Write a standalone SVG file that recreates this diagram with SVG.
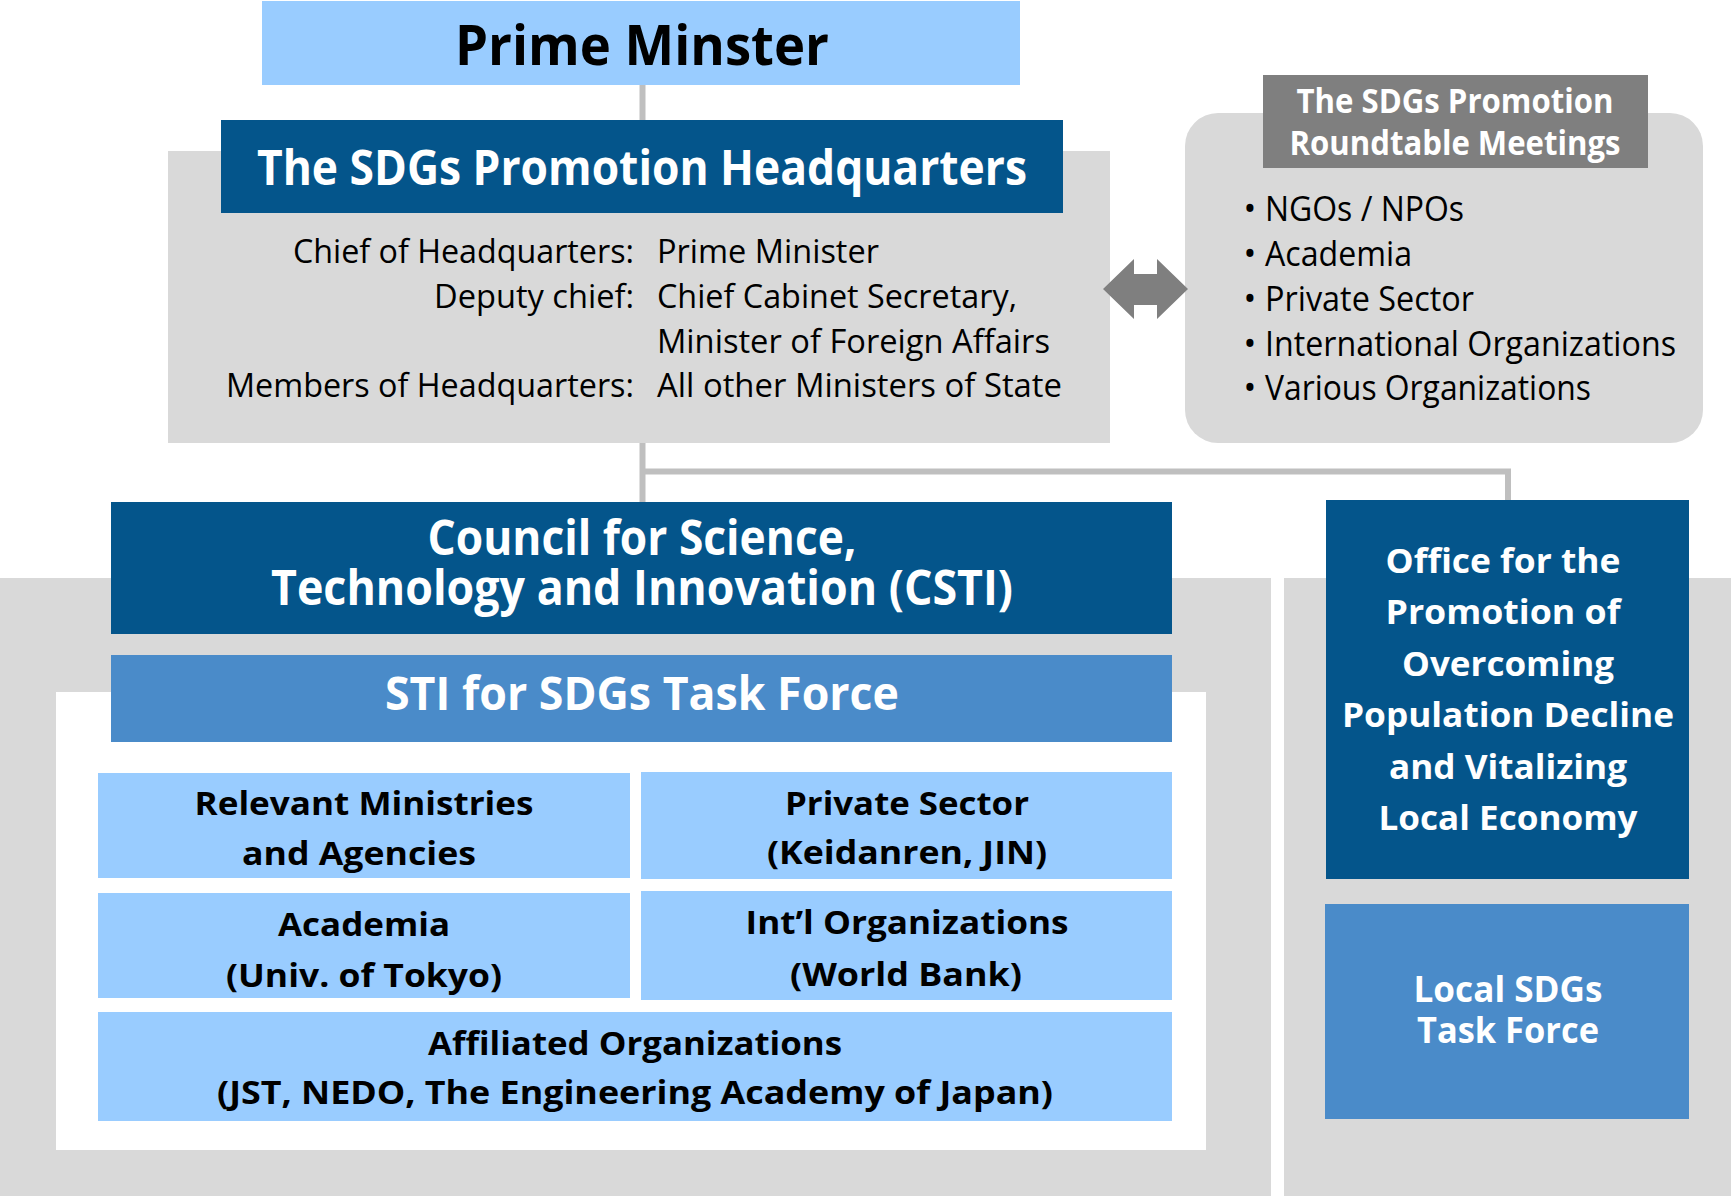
<svg xmlns="http://www.w3.org/2000/svg" width="1731" height="1196" viewBox="0 0 1731 1196">
<style>
text{font-family:"Open Sans","Liberation Sans",sans-serif}
.b{font-weight:700}
.w{fill:#ffffff}
.k{fill:#000000}
.m{text-anchor:middle}
.e{text-anchor:end}
.dark{fill:#04558b}
.mid{fill:#4a8bc9}
.light{fill:#99ccff}
.grey{fill:#d9d9d9}
.conn{stroke:#bfbfbf;stroke-width:6;fill:none}
</style>
<rect width="1731" height="1196" fill="#ffffff"/>
<g id="panels">
<rect class="grey" x="0" y="578" width="1271" height="618"/>
<rect class="grey" x="1284" y="578" width="447" height="618"/>
<rect fill="#ffffff" x="56" y="692" width="1150" height="458"/>
</g>
<g id="prime-minister">
<rect class="light" x="262" y="1" width="758" height="84"/>
<text class="b k m" x="642" y="65" font-size="56" textLength="374" lengthAdjust="spacingAndGlyphs">Prime Minster</text>
</g>
<g id="headquarters">
<rect class="grey" x="168" y="151" width="942" height="292"/>
<rect class="dark" x="221" y="120" width="842" height="93"/>
<text class="b w m" x="642" y="185" font-size="48" textLength="770" lengthAdjust="spacingAndGlyphs">The SDGs Promotion Headquarters</text>
<g font-size="33" class="k">
<text class="e" x="634" y="263" textLength="341" lengthAdjust="spacingAndGlyphs">Chief of Headquarters:</text>
<text class="e" x="634" y="308" textLength="200" lengthAdjust="spacingAndGlyphs">Deputy chief:</text>
<text class="e" x="634" y="397" textLength="408" lengthAdjust="spacingAndGlyphs">Members of Headquarters:</text>
<text x="657" y="263" textLength="222" lengthAdjust="spacingAndGlyphs">Prime Minister</text>
<text x="657" y="308" textLength="360" lengthAdjust="spacingAndGlyphs">Chief Cabinet Secretary,</text>
<text x="657" y="353" textLength="393" lengthAdjust="spacingAndGlyphs">Minister of Foreign Affairs</text>
<text x="657" y="397" textLength="405" lengthAdjust="spacingAndGlyphs">All other Ministers of State</text>
</g>
</g>
<g id="roundtable">
<rect class="grey" x="1185" y="113" width="518" height="330" rx="33" ry="33"/>
<rect fill="#7f7f7f" x="1263" y="75" width="385" height="93"/>
<text class="b w m" x="1455" y="113" font-size="34" textLength="317" lengthAdjust="spacingAndGlyphs">The SDGs Promotion</text>
<text class="b w m" x="1455" y="155" font-size="34" textLength="331" lengthAdjust="spacingAndGlyphs">Roundtable Meetings</text>
<g font-size="34" class="k">
<text class="m" x="1250" y="221">•</text>
<text class="m" x="1250" y="266">•</text>
<text class="m" x="1250" y="311">•</text>
<text class="m" x="1250" y="356">•</text>
<text class="m" x="1250" y="400">•</text>
<text x="1265" y="221" textLength="199" lengthAdjust="spacingAndGlyphs">NGOs / NPOs</text>
<text x="1265" y="266" textLength="147" lengthAdjust="spacingAndGlyphs">Academia</text>
<text x="1265" y="311" textLength="209" lengthAdjust="spacingAndGlyphs">Private Sector</text>
<text x="1265" y="356" textLength="411" lengthAdjust="spacingAndGlyphs">International Organizations</text>
<text x="1265" y="400" textLength="326" lengthAdjust="spacingAndGlyphs">Various Organizations</text>
</g>
</g>
<g id="csti">
<rect class="dark" x="111" y="502" width="1061" height="132"/>
<text class="b w m" x="642" y="555" font-size="48" textLength="429" lengthAdjust="spacingAndGlyphs">Council for Science,</text>
<text class="b w m" x="642" y="605" font-size="48" textLength="742" lengthAdjust="spacingAndGlyphs">Technology and Innovation (CSTI)</text>
</g>
<g id="sti-task-force">
<rect class="mid" x="111" y="655" width="1061" height="87"/>
<text class="b w m" x="642" y="710" font-size="46" textLength="514" lengthAdjust="spacingAndGlyphs">STI for SDGs Task Force</text>
</g>
<g id="relevant-ministries">
<rect class="light" x="98" y="773" width="532" height="105"/>
<text class="b k m" x="364" y="815" font-size="33" textLength="339" lengthAdjust="spacingAndGlyphs">Relevant Ministries</text>
<text class="b k m" x="359" y="865" font-size="33" textLength="234" lengthAdjust="spacingAndGlyphs">and Agencies</text>
</g>
<g id="private-sector">
<rect class="light" x="641" y="772" width="531" height="107"/>
<text class="b k m" x="907" y="815" font-size="33" textLength="244" lengthAdjust="spacingAndGlyphs">Private Sector</text>
<text class="b k m" x="907" y="864" font-size="33" textLength="280" lengthAdjust="spacingAndGlyphs">(Keidanren, JIN)</text>
</g>
<g id="academia">
<rect class="light" x="98" y="893" width="532" height="105"/>
<text class="b k m" x="364" y="936" font-size="33" textLength="172" lengthAdjust="spacingAndGlyphs">Academia</text>
<text class="b k m" x="364" y="987" font-size="33" textLength="276" lengthAdjust="spacingAndGlyphs">(Univ. of Tokyo)</text>
</g>
<g id="intl-organizations">
<rect class="light" x="641" y="891" width="531" height="109"/>
<text class="b k m" x="907" y="934" font-size="33" textLength="323" lengthAdjust="spacingAndGlyphs">Int’l Organizations</text>
<text class="b k m" x="906" y="986" font-size="33" textLength="232" lengthAdjust="spacingAndGlyphs">(World Bank)</text>
</g>
<g id="affiliated-organizations">
<rect class="light" x="98" y="1012" width="1074" height="109"/>
<text class="b k m" x="635" y="1055" font-size="33" textLength="414" lengthAdjust="spacingAndGlyphs">Affiliated Organizations</text>
<text class="b k m" x="635" y="1104" font-size="33" textLength="836" lengthAdjust="spacingAndGlyphs">(JST, NEDO, The Engineering Academy of Japan)</text>
</g>
<g id="office-population-decline">
<rect class="dark" x="1326" y="500" width="363" height="379"/>
<g class="b w m" font-size="34">
<text x="1503" y="573" textLength="235" lengthAdjust="spacingAndGlyphs">Office for the</text>
<text x="1503" y="624" textLength="235" lengthAdjust="spacingAndGlyphs">Promotion of</text>
<text x="1508" y="676" textLength="212" lengthAdjust="spacingAndGlyphs">Overcoming</text>
<text x="1508" y="727" textLength="332" lengthAdjust="spacingAndGlyphs">Population Decline</text>
<text x="1508" y="779" textLength="238" lengthAdjust="spacingAndGlyphs">and Vitalizing</text>
<text x="1508" y="830" textLength="259" lengthAdjust="spacingAndGlyphs">Local Economy</text>
</g>
</g>
<g id="local-sdgs-task-force">
<rect class="mid" x="1325" y="904" width="364" height="215"/>
<text class="b w m" x="1508" y="1002" font-size="36" textLength="189" lengthAdjust="spacingAndGlyphs">Local SDGs</text>
<text class="b w m" x="1508" y="1043" font-size="36" textLength="182" lengthAdjust="spacingAndGlyphs">Task Force</text>
</g>
<g id="connectors">
<line class="conn" x1="642.5" y1="85" x2="642.5" y2="120"/>
<line class="conn" x1="642.5" y1="443" x2="642.5" y2="502"/>
<polyline class="conn" points="642.5,471.5 1508,471.5 1508,500"/>
<polygon fill="#7f7f7f" points="1103,289 1134,259 1134,274 1157,274 1157,259 1188,289 1157,319 1157,305 1134,305 1134,319"/>
</g>
</svg>
